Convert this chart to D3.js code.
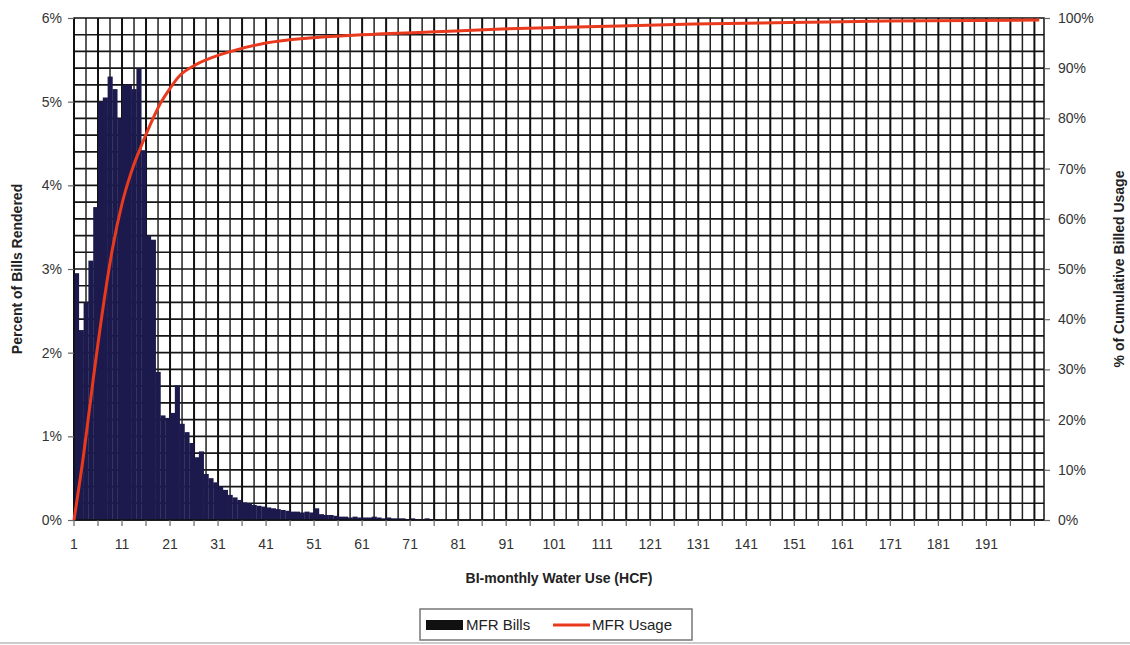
<!DOCTYPE html>
<html>
<head>
<meta charset="utf-8">
<script src="https://cdn.jsdelivr.net/npm/d3@7"></script>
<style>
  body { margin: 0; background: #fff; }
  svg { display: block; font-family: "Liberation Sans", Arial, sans-serif; }
</style>
</head>
<body>
<svg id="chart" width="1130" height="645"></svg>
<script>
// categories: bi-monthly water use bins (HCF)
const categories = d3.range(1, 203);
const xLabels = ["1","11","21","31","41","51","61","71","81","91","101","111","121","131","141","151","161","171","181","191"];

// percent of bills rendered per bin (bins 1..)
const billPct = [
  2.95, 2.27, 2.6, 3.1, 3.74, 5.0, 5.05, 5.3, 5.15, 4.8,
  5.2, 5.2, 5.15, 5.4, 4.42, 3.4, 3.35, 1.77, 1.25, 1.22,
  1.28, 1.61, 1.15, 1.05, 0.92, 0.75, 0.82, 0.55, 0.5, 0.45,
  0.4, 0.36, 0.3, 0.27, 0.24, 0.21, 0.2, 0.18, 0.17, 0.16,
  0.15, 0.14, 0.13, 0.12, 0.11, 0.1, 0.1, 0.09, 0.1, 0.09,
  0.14, 0.07, 0.06, 0.06, 0.05, 0.04, 0.04, 0.03, 0.04, 0.03,
  0.03, 0.03, 0.04, 0.03, 0.02, 0.03, 0.02, 0.02, 0.02, 0.01,
  0.02, 0.01, 0.01, 0.02, 0.01, 0, 0, 0, 0, 0.01,
  0, 0, 0, 0, 0, 0, 0, 0, 0.01, 0,
  0, 0, 0, 0, 0, 0, 0, 0, 0, 0,
  0, 0.01
];

// cumulative billed usage (%) read at selected bins
const usageBins = [1, 3, 5, 7, 9, 11, 13, 15, 17, 19, 21, 23, 26, 30, 35, 41, 50, 60, 75, 90, 110, 130, 150, 170, 202];
const usagePct  = [0, 13, 28, 42, 54, 63, 69.5, 74.5, 79, 83, 86, 88.5, 90.5, 92.2, 93.7, 95, 96, 96.6, 97.2, 97.8, 98.3, 98.8, 99.1, 99.4, 99.6];

const leftTicks = [0, 1, 2, 3, 4, 5, 6];
const rightTicks = [0, 10, 20, 30, 40, 50, 60, 70, 80, 90, 100];

const margin = {top: 18, right: 86, bottom: 125, left: 74};
const W = 1130, H = 645;
const width = W - margin.left - margin.right;
const height = H - margin.top - margin.bottom;

const svg = d3.select("#chart");
const g = svg.append("g").attr("transform", `translate(${margin.left},${margin.top})`);

const x = d3.scaleBand().domain(categories).range([0, width]).padding(0);
const bw = x.bandwidth();
const yL = d3.scaleLinear().domain([0, 6]).range([height, 0]);
const yR = d3.scaleLinear().domain([0, 100]).range([height, 0]);

// grid - horizontal every 0.2%
const hGrid = d3.range(0, 30).map(i => i * 0.2);
g.append("g").selectAll("line").data(hGrid).enter().append("line")
  .attr("x1", 0).attr("x2", width)
  .attr("y1", d => yL(d)).attr("y2", d => yL(d))
  .attr("stroke", "#151515").attr("stroke-width", 1.7);

// grid - vertical, major every 5 bins, minor in between
const majorCats = categories.filter(c => (c - 1) % 5 === 0);
const vg = g.append("g");
majorCats.forEach(c => {
  const xm = x(c);
  vg.append("line").attr("x1", xm).attr("x2", xm).attr("y1", 0).attr("y2", height)
    .attr("stroke", "#111").attr("stroke-width", 2);
  const xn = xm + 2.5 * bw;
  if (xn < width - 1) {
    vg.append("line").attr("x1", xn).attr("x2", xn).attr("y1", 0).attr("y2", height)
      .attr("stroke", "#222").attr("stroke-width", 1.5);
  }
});

// bars
g.append("g").selectAll("rect").data(billPct).enter().append("rect")
  .attr("x", (d, i) => x(categories[i]))
  .attr("y", d => yL(d))
  .attr("width", bw + 0.3)
  .attr("height", d => height - yL(d))
  .attr("fill", "#1c1a4c");

// plot frame
g.append("rect").attr("x", 0).attr("y", 0).attr("width", width).attr("height", height)
  .attr("fill", "none").attr("stroke", "#111").attr("stroke-width", 1.5);

// usage line
const line = d3.line()
  .x((d, i) => x(usageBins[i]))
  .y(d => yR(d))
  .curve(d3.curveMonotoneX);
g.append("path").datum(usagePct)
  .attr("d", line)
  .attr("fill", "none")
  .attr("stroke", "#ea3a1e")
  .attr("stroke-width", 3);

// axes
const tickColor = "#666";
const labelColor = "#333";

const axL = g.append("g").call(d3.axisLeft(yL).tickValues(leftTicks).tickFormat(d => d + "%").tickSize(6).tickPadding(6));
const axR = g.append("g").attr("transform", `translate(${width},0)`)
  .call(d3.axisRight(yR).tickValues(rightTicks).tickFormat(d => d + "%").tickSize(6).tickPadding(8));
const xTickCats = categories.filter(c => (c - 1) % 5 === 0);
const axB = g.append("g").attr("transform", `translate(0,${height})`)
  .call(d3.axisBottom(x).tickValues(xTickCats).tickFormat(c => xLabels.includes(String(c)) ? String(c) : "").tickSize(6).tickPadding(13));
axB.selectAll(".tick").attr("transform", d => `translate(${x(d)},0)`);

[axL, axR, axB].forEach(ax => {
  ax.select(".domain").remove();
  ax.selectAll(".tick line").attr("stroke", tickColor).attr("stroke-width", 1.2);
  ax.selectAll(".tick text").attr("fill", labelColor).attr("font-size", 14)
    .attr("font-family", "'Liberation Sans', Arial, sans-serif");
});

// axis titles
svg.append("text")
  .attr("transform", `translate(22,${margin.top + height / 2}) rotate(-90)`)
  .attr("text-anchor", "middle")
  .attr("font-size", 14).attr("font-weight", "bold").attr("fill", "#222")
  .text("Percent of Bills Rendered");

svg.append("text")
  .attr("transform", `translate(1124,${margin.top + height / 2}) rotate(-90)`)
  .attr("text-anchor", "middle")
  .attr("font-size", 14).attr("font-weight", "bold").attr("fill", "#222")
  .text("% of Cumulative Billed Usage");

svg.append("text")
  .attr("x", margin.left + width / 2).attr("y", 583)
  .attr("text-anchor", "middle")
  .attr("font-size", 14).attr("font-weight", "bold").attr("fill", "#222")
  .text("BI-monthly Water Use (HCF)");

// legend
const lg = svg.append("g").attr("transform", "translate(420,609)");
lg.append("rect").attr("width", 272).attr("height", 31)
  .attr("fill", "#fff").attr("stroke", "#777").attr("stroke-width", 1.5);
lg.append("rect").attr("x", 6).attr("y", 11).attr("width", 37).attr("height", 10).attr("fill", "#111");
lg.append("text").attr("x", 46).attr("y", 21).attr("font-size", 15).attr("fill", "#222").text("MFR Bills");
lg.append("line").attr("x1", 133).attr("x2", 170).attr("y1", 16).attr("y2", 16)
  .attr("stroke", "#ea3a1e").attr("stroke-width", 3);
lg.append("text").attr("x", 172).attr("y", 21).attr("font-size", 15).attr("fill", "#222").text("MFR Usage");

// faint bottom border
svg.append("line").attr("x1", 0).attr("x2", W).attr("y1", 643).attr("y2", 643)
  .attr("stroke", "#ccc").attr("stroke-width", 2);
</script>
</body>
</html>
